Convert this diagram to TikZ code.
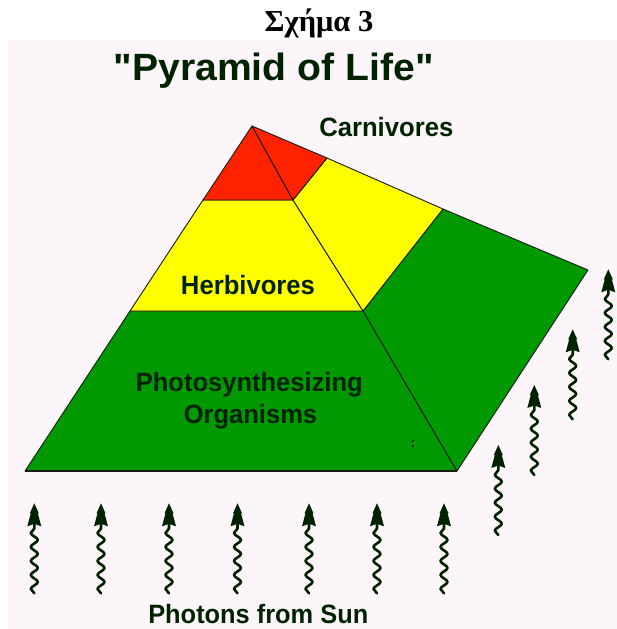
\documentclass[tikz,border=0pt]{standalone}
\usepackage{fontspec}
\setmainfont{Liberation Serif}
\newfontfamily\arialfont{Liberation Sans}
\usetikzlibrary{decorations.pathmorphing}
\definecolor{bgpink}{RGB}{252,246,250}
\definecolor{pgreen}{RGB}{0,153,0}
\definecolor{pyellow}{RGB}{255,255,0}
\definecolor{pred}{RGB}{255,34,0}
\definecolor{ink}{RGB}{0,34,0}
\definecolor{edgecol}{RGB}{20,28,20}
\tikzset{
  face/.style={draw=edgecol, line width=0.9pt, line join=round},
  lbl/.style={font=\arialfont\bfseries\fontsize{26.5}{28}\selectfont, text=ink, inner sep=0pt, anchor=base},
  photon/.pic={
    \draw[ink, line width=2.6pt, line cap=round, line join=round, decorate,
          decoration={snake, segment length=14pt, amplitude=3.5pt}] (0,90) -- (0,21);
    \fill[ink] (0,0) -- (-4.5,10) -- (-3.5,10) -- (-7,23) -- (0,20.5) -- (7,23) -- (3.5,10) -- (4.5,10) -- cycle;
  }
}
\begin{document}
\begin{tikzpicture}[x=1pt,y=-1pt]
\useasboundingbox (0,0) rectangle (617,629);
\clip (0,0) rectangle (617,629);
\fill[white] (0,0) rectangle (617,629);
\fill[bgpink] (8,40) rectangle (617,629);

% pyramid points
\coordinate (A) at (252,126);
\coordinate (L1) at (203,200);
\coordinate (L2) at (130,311);
\coordinate (L3) at (25,471);
\coordinate (R1) at (293,200);
\coordinate (R2) at (363,311);
\coordinate (R3) at (457,471);
\coordinate (B1) at (327,158);
\coordinate (B2) at (443,209);
\coordinate (B3) at (588,270);

% front faces
\filldraw[face, fill=pgreen] (L2) -- (R2) -- (R3) -- (L3) -- cycle;
\filldraw[face, fill=pyellow] (L1) -- (R1) -- (R2) -- (L2) -- cycle;
\filldraw[face, fill=pred] (A) -- (R1) -- (L1) -- cycle;
% right faces
\filldraw[face, fill=pgreen] (R2) -- (B2) -- (B3) -- (R3) -- cycle;
\filldraw[face, fill=pyellow] (R1) -- (B1) -- (B2) -- (R2) -- cycle;
\filldraw[face, fill=pred] (A) -- (B1) -- (R1) -- cycle;
\draw[edgecol, line width=2pt] (L3) -- (R3);

% photons
\foreach \n/\x/\y in {1/34.3/503.3, 2/101/503.3, 3/169/503.3, 4/237.5/503.3,
                      5/309/503.3, 6/377/503.3, 7/444/503.3,
                      8/498.3/445, 9/534.3/385, 10/572.7/329.3, 11/608.3/269.3}{
  \coordinate (t\n) at (\x,\y);
  \pic (ph\n) at (t\n) {photon};
}

% texts
\node[inner sep=0pt, anchor=base, font=\bfseries\fontsize{30.5}{33}\selectfont] (fig) at (319,31) {Σχήμα 3};
\node[lbl, font=\arialfont\bfseries\fontsize{38}{40}\selectfont] (title) at (273.7,80) {\scalebox{1.03}[1]{"Pyramid of Life"}};
\node[lbl] (carn) at (386.3,136) {\scalebox{0.968}[1]{Carnivores}};
\node[lbl] (herb) at (248,294.3) {\scalebox{0.968}[1]{Herbivores}};
\node[lbl] (photo1) at (249.3,391.7) {\scalebox{0.963}[1]{Photosynthesizing}};
\node[lbl] (photo2) at (250.5,423.3) {\scalebox{0.963}[1]{Organisms}};
\node[lbl, font=\arialfont\bfseries\fontsize{14}{15}\selectfont] (mark) at (413,447) {:};
\node[lbl] (sun) at (258.3,623) {\scalebox{0.958}[1]{Photons from Sun}};
\end{tikzpicture}
\end{document}
